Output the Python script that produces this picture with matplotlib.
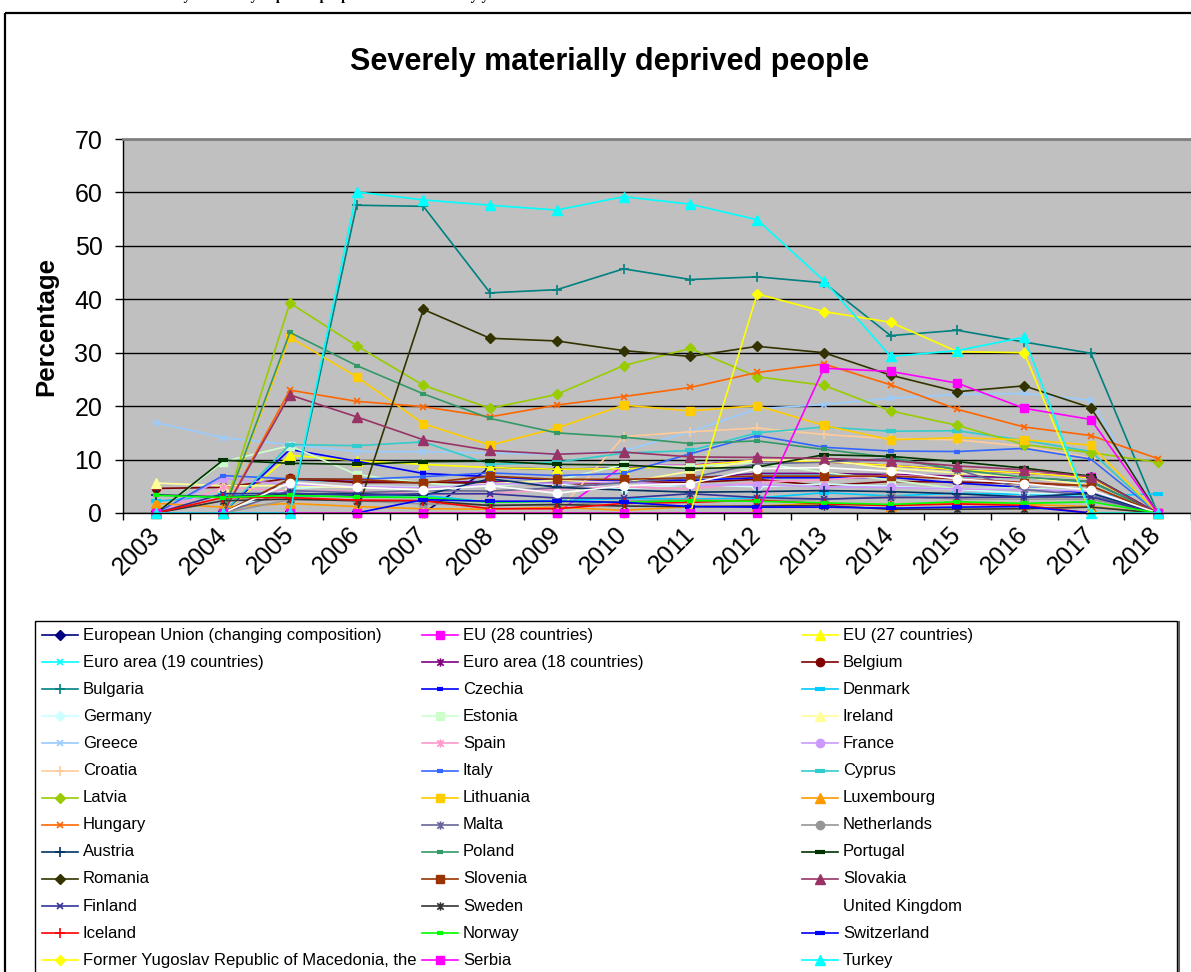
import numpy as np
import matplotlib
matplotlib.use("Agg")
import matplotlib.pyplot as plt
from matplotlib.path import Path
from matplotlib.patches import Rectangle
from matplotlib.transforms import ScaledTranslation

plt.rcParams["font.family"] = ["Liberation Sans", "DejaVu Sans"]

W, H = 1191, 972

years = [str(y) for y in range(2003, 2019)]

# severe material deprivation rate, % of population (0 where no figure)
eu_changing = [0, 0, 0, 0, 0, 8.5, 8.2, 8.4, 8.9, 9.9, 9.6, 8.9, 8.1, 7.5, 6.7, 0]
eu28 = [0, 0, 0, 0, 0, 0, 0, 8.9, 8.9, 9.9, 9.6, 8.9, 8.1, 7.5, 6.7, 0]
eu27 = [0, 0, 10.8, 9.8, 9.1, 8.5, 8.2, 8.3, 8.8, 9.9, 9.6, 8.9, 8.1, 7.5, 6.6, 0]
ea19 = [0, 0, 6.2, 5.9, 5.7, 5.9, 5.8, 5.9, 6.5, 7.4, 7.3, 7.2, 6.8, 6.6, 5.8, 0]
ea18 = [0, 0, 6.3, 5.9, 5.7, 5.9, 5.8, 5.9, 6.5, 7.4, 7.4, 7.2, 6.9, 6.6, 5.9, 0]
belgium = [4.6, 4.8, 6.5, 5.7, 5.7, 5.6, 5.2, 5.9, 5.7, 6.3, 5.1, 5.9, 5.8, 5.5, 5.1, 0]
bulgaria = [0, 0, 0, 57.6, 57.4, 41.2, 41.8, 45.7, 43.7, 44.2, 43.1, 33.2, 34.2, 32.0, 29.9, 0]
czechia = [0, 0, 11.9, 9.7, 7.4, 6.8, 6.1, 6.2, 6.1, 6.6, 6.6, 6.7, 5.6, 4.8, 3.7, 0]
denmark = [2.2, 3.3, 3.2, 3.1, 3.3, 2.0, 2.3, 2.7, 2.6, 2.8, 3.8, 3.2, 3.7, 3.5, 3.1, 3.6]
germany = [0, 0, 4.6, 5.1, 4.8, 5.5, 5.4, 4.5, 5.3, 4.9, 5.4, 5.0, 4.4, 3.7, 3.4, 0]
estonia = [0, 9.6, 12.6, 7.2, 5.6, 4.9, 6.2, 9.0, 8.7, 9.4, 7.6, 6.2, 4.5, 4.7, 4.1, 0]
ireland = [5.6, 5.1, 5.1, 4.8, 4.5, 5.5, 6.1, 5.7, 7.8, 9.9, 9.9, 8.4, 7.5, 6.7, 5.2, 0]
greece = [16.9, 14.1, 12.8, 11.5, 11.5, 11.2, 11.0, 11.6, 15.2, 19.5, 20.3, 21.5, 22.2, 22.4, 21.1, 0]
spain = [0, 4.8, 4.1, 4.1, 3.5, 3.6, 4.5, 4.9, 4.5, 5.8, 6.2, 7.1, 6.4, 5.8, 5.1, 0]
france = [0, 6.5, 5.3, 5.0, 4.7, 5.4, 5.6, 5.8, 5.2, 5.3, 4.9, 4.8, 4.5, 4.4, 4.1, 0]
croatia = [0, 0, 0, 0, 0, 0, 0, 14.3, 15.2, 15.9, 14.7, 13.9, 13.7, 12.5, 10.3, 0]
italy = [0, 7.0, 6.4, 6.3, 6.8, 7.5, 7.0, 7.4, 11.1, 14.5, 12.3, 11.6, 11.5, 12.1, 10.1, 0]
cyprus = [0, 0, 12.8, 12.6, 13.3, 9.1, 9.5, 11.2, 11.7, 15.0, 16.1, 15.3, 15.4, 13.6, 11.5, 0]
latvia = [0, 0, 39.3, 31.3, 23.9, 19.6, 22.2, 27.6, 30.8, 25.5, 23.9, 19.1, 16.4, 12.8, 11.3, 9.5]
lithuania = [0, 0, 32.9, 25.5, 16.7, 12.7, 15.9, 20.2, 19.1, 20.1, 16.4, 13.7, 14.1, 13.7, 12.7, 0]
luxembourg = [1.8, 1.1, 1.8, 1.2, 0.8, 0.7, 1.1, 0.5, 1.2, 1.3, 1.8, 1.4, 2.0, 1.6, 1.2, 0]
hungary = [0, 0, 23.0, 20.9, 19.9, 18.0, 20.2, 21.8, 23.5, 26.3, 27.9, 24.0, 19.4, 16.1, 14.5, 10.2]
malta = [0, 0, 4.2, 3.8, 4.2, 4.1, 4.7, 5.7, 6.6, 9.2, 9.5, 10.2, 8.1, 4.4, 3.3, 0]
netherlands = [0, 0, 2.5, 2.3, 1.7, 1.5, 1.4, 2.2, 2.5, 2.3, 2.5, 3.2, 2.6, 2.6, 2.6, 0]
austria = [3.4, 3.0, 3.5, 3.6, 3.3, 6.4, 4.8, 4.3, 3.9, 4.0, 4.2, 4.0, 3.6, 3.0, 3.7, 0]
poland = [0, 0, 33.8, 27.6, 22.3, 17.7, 15.0, 14.2, 13.0, 13.5, 11.9, 10.4, 8.1, 6.7, 5.9, 0]
portugal = [0, 9.9, 9.3, 9.1, 9.6, 9.7, 9.1, 9.0, 8.3, 8.6, 10.9, 10.6, 9.6, 8.4, 6.9, 0]
romania = [0, 0, 0, 0, 38.1, 32.7, 32.2, 30.4, 29.3, 31.2, 30.0, 25.8, 22.7, 23.8, 19.7, 0]
slovenia = [0, 0, 6.4, 6.3, 5.6, 6.9, 6.3, 6.3, 6.6, 6.9, 6.9, 6.9, 6.4, 5.7, 5.1, 0]
slovakia = [0, 0, 22.1, 18.0, 13.7, 11.7, 11.0, 11.4, 10.5, 10.4, 10.2, 9.8, 8.8, 8.1, 6.8, 0]
finland = [0, 3.6, 3.7, 3.3, 3.6, 3.6, 2.8, 2.8, 3.6, 2.9, 2.6, 2.9, 2.9, 3.0, 3.0, 0]
sweden = [0, 2.3, 2.6, 2.3, 2.3, 1.4, 1.6, 1.3, 1.2, 1.3, 1.4, 0.7, 0.7, 0.8, 1.1, 0]
uk = [0, 0, 5.7, 4.8, 4.3, 5.1, 3.7, 5.1, 5.5, 8.3, 8.5, 7.8, 6.4, 5.5, 4.3, 0]
iceland = [0, 2.9, 2.9, 2.4, 2.3, 0.8, 0.8, 1.8, 2.0, 2.4, 1.7, 1.4, 1.7, 1.4, 0, 0]
norway = [3.3, 2.9, 3.3, 3.0, 2.9, 2.0, 2.2, 2.0, 2.3, 2.2, 1.9, 1.6, 2.1, 1.8, 2.1, 0]
switzerland = [0, 0, 0, 0, 2.5, 2.2, 2.2, 2.0, 1.2, 1.1, 1.1, 0.9, 1.1, 1.2, 0, 0]
fyrom = [0, 0, 0, 0, 0, 0, 0, 0, 0, 41.0, 37.7, 35.7, 30.2, 30.0, 0, 0]
serbia = [0, 0, 0, 0, 0, 0, 0, 0, 0, 0, 27.1, 26.5, 24.3, 19.6, 17.5, 0]
turkey = [0, 0, 0, 60.1, 58.6, 57.6, 56.7, 59.2, 57.8, 54.9, 43.5, 29.3, 30.4, 32.9, 0, 0]

series = [
    ("European Union (changing composition)", eu_changing),
    ("EU (28 countries)", eu28),
    ("EU (27 countries)", eu27),
    ("Euro area (19 countries)", ea19),
    ("Euro area (18 countries)", ea18),
    ("Belgium", belgium),
    ("Bulgaria", bulgaria),
    ("Czechia", czechia),
    ("Denmark", denmark),
    ("Germany", germany),
    ("Estonia", estonia),
    ("Ireland", ireland),
    ("Greece", greece),
    ("Spain", spain),
    ("France", france),
    ("Croatia", croatia),
    ("Italy", italy),
    ("Cyprus", cyprus),
    ("Latvia", latvia),
    ("Lithuania", lithuania),
    ("Luxembourg", luxembourg),
    ("Hungary", hungary),
    ("Malta", malta),
    ("Netherlands", netherlands),
    ("Austria", austria),
    ("Poland", poland),
    ("Portugal", portugal),
    ("Romania", romania),
    ("Slovenia", slovenia),
    ("Slovakia", slovakia),
    ("Finland", finland),
    ("Sweden", sweden),
    ("United Kingdom", uk),
    ("Iceland", iceland),
    ("Norway", norway),
    ("Switzerland", switzerland),
    ("Former Yugoslav Republic of Macedonia, the", fyrom),
    ("Serbia", serbia),
    ("Turkey", turkey),
]

# spreadsheet default line palette, one per series in order
colors = [
    "#000080", "#FF00FF", "#FFFF00", "#00FFFF", "#800080", "#800000",
    "#008080", "#0000FF", "#00CCFF", "#CCFFFF", "#CCFFCC", "#FFFF99",
    "#99CCFF", "#FF99CC", "#CC99FF", "#FFCC99", "#3366FF", "#33CCCC",
    "#99CC00", "#FFCC00", "#FF9900", "#FF6600", "#666699", "#969696",
    "#003366", "#339966", "#003300", "#333300", "#993300", "#993366",
    "#333399", "#333333", "#FFFFFF", "#FF0000", "#00FF00", "#0000FF",
    "#FFFF00", "#FF00FF", "#00FFFF",
]

# asterisk: an x with a vertical stroke
_asterisk = Path(
    [(-1, -1), (1, 1), (-1, 1), (1, -1), (0, -1.3), (0, 1.3)],
    [Path.MOVETO, Path.LINETO] * 3,
)
marker_cycle = [
    dict(marker="D", ms=5.0),
    dict(marker="s", ms=6.0),
    dict(marker="^", ms=7.0),
    dict(marker="x", ms=5.0, mew=1.2),
    dict(marker=_asterisk, ms=6.0, mew=1.2),
    dict(marker="o", ms=6.0),
    dict(marker="+", ms=6.5, mew=1.2),
    dict(marker="_", ms=4.0, mew=3.0),
    dict(marker="_", ms=6.5, mew=3.0),
]

fig = plt.figure(figsize=(W / 100, H / 100), dpi=100)

# full-figure pixel overlay for the frame, titles and legend
lax = fig.add_axes([0, 0, 1, 1])
lax.set_xlim(0, W)
lax.set_ylim(H, 0)
lax.axis("off")
lax.set_zorder(1)

lax.add_patch(Rectangle((5, 13), 1300, 1100, fill=False, ec="black", lw=1.6))
lax.add_patch(Rectangle((35, 621), 1142, 400, fill=False, ec="black", lw=1.0))
lax.plot([1178.5, 1178.5], [622, 980], color="#606060", lw=1.5)

# page heading above the chart box; only its descenders fall inside the page
fig.text(139 / W, 1.0,
         "Severely materially deprived people in EU countries by year",
         fontsize=10.4, fontweight="bold", family=["Liberation Serif"],
         ha="left", va="baseline")

lax.text(610, 62, "Severely materially deprived people", fontsize=22,
         fontweight="bold", ha="center", va="center")
lax.text(46, 326, "Percentage", fontsize=18.5, fontweight="bold",
         rotation=90, ha="center", va="center")

# plot area
PL, PR, PT, PB = 123, 1191, 139, 513
ax = fig.add_axes([PL / W, 1 - PB / H, (PR - PL) / W, (PB - PT) / H])
ax.set_zorder(2)
ax.set_facecolor("#C0C0C0")

x = np.arange(len(years))
for i, (name, vals) in enumerate(series):
    mk = marker_cycle[i % len(marker_cycle)]
    c = colors[i]
    ax.plot(x, vals, color=c, lw=1.2, mfc=c, mec=c, clip_on=False, **mk)

ax.set_xlim(-0.5, len(years) - 0.5)
ax.set_ylim(0, 70)
ax.set_yticks(np.arange(0, 71, 10))
ax.set_xticks(np.arange(-0.5, len(years), 1))
ax.set_xticklabels([])
ax.set_xticks(x, minor=True)
ax.set_xticklabels(years, minor=True, rotation=45, ha="right", va="center",
                   rotation_mode="anchor", fontsize=18)
# nudge the slanted year labels a little left and down
shift = ScaledTranslation(-5 / 100, -4 / 100, fig.dpi_scale_trans)
for lbl in ax.get_xticklabels(minor=True):
    lbl.set_transform(lbl.get_transform() + shift)
ax.tick_params(axis="x", which="major", direction="out", length=5, width=1)
ax.tick_params(axis="x", which="minor", length=0, pad=13)
ax.tick_params(axis="y", direction="out", length=5.8, width=1,
               labelsize=18, pad=9)
ax.yaxis.grid(True, color="black", lw=1)
ax.set_axisbelow(True)
ax.spines["right"].set_visible(False)
ax.spines["top"].set_color("#808080")
ax.spines["top"].set_linewidth(2)
ax.spines["left"].set_linewidth(1)
ax.spines["bottom"].set_linewidth(1)

# legend, filled row by row in three equal columns
for i, (name, vals) in enumerate(series):
    r, col = divmod(i, 3)
    ly = 635 + 27.1 * r
    lx = 42 + 380 * col
    mk = marker_cycle[i % len(marker_cycle)]
    c = colors[i]
    lax.plot([lx, lx + 36], [ly, ly], color=c, lw=1.2)
    lax.plot([lx + 18], [ly], color=c, mfc=c, mec=c, **mk)
    lax.text(lx + 41, ly, name, fontsize=12, ha="left", va="center")

fig.savefig("out.png", dpi=100)
